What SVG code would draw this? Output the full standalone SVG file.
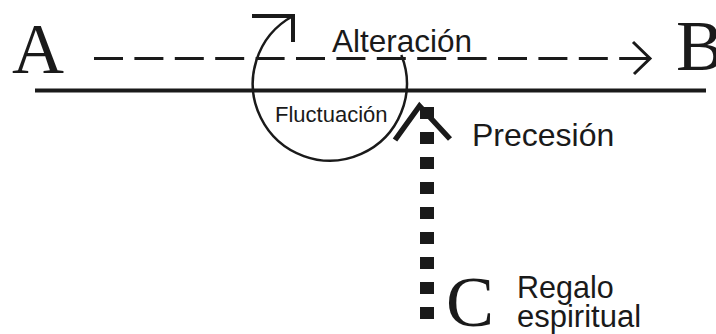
<svg xmlns="http://www.w3.org/2000/svg" width="716" height="334" viewBox="0 0 716 334">
<style>
.serif{font-family:"Liberation Serif","Times New Roman",serif;font-size:72px;fill:#1a1a1a}
.sans{font-family:"Liberation Sans",Arial,sans-serif;fill:#1a1a1a}
.ln{fill:none;stroke:#1a1a1a}
</style>
<rect width="716" height="334" fill="#ffffff"/>
<g id="connectors">
<line class="ln" x1="35" y1="90.5" x2="706" y2="90.5" stroke-width="4"/>
<line class="ln" x1="94" y1="58.5" x2="648" y2="58.5" stroke-width="3" stroke-dasharray="29 11.4"/>
<polyline class="ln" points="633,42 650,58.5 634,74" stroke-width="3"/>
<path class="ln" d="M401.3,55 A77,77 0 1 1 293,16" stroke-width="2.5"/>
<polyline class="ln" points="252,16 293,16 293,42" stroke-width="4" stroke-linejoin="miter"/>
<polyline class="ln" points="395,140 419.5,106 450,139" stroke-width="5.5" stroke-linejoin="miter"/>
<line class="ln" x1="427" y1="107" x2="427" y2="319" stroke-width="14" stroke-dasharray="12 13"/>
</g>
<g id="node-A"><text class="serif" x="12" y="73">A</text></g>
<g id="node-B"><text class="serif" x="676" y="70">B</text></g>
<g id="node-C"><text class="serif" x="446" y="326">C</text></g>
<g id="label-alteracion"><text class="sans" x="332" y="52" font-size="31.5">Alteración</text></g>
<g id="label-fluctuacion"><text class="sans" x="275" y="122" font-size="22">Fluctuación</text></g>
<g id="label-precesion"><text class="sans" x="472" y="146" font-size="32">Precesión</text></g>
<g id="label-regalo"><text class="sans" x="517" y="298" font-size="30.5">Regalo</text><text class="sans" x="517" y="327" font-size="31">espiritual</text></g>
</svg>
